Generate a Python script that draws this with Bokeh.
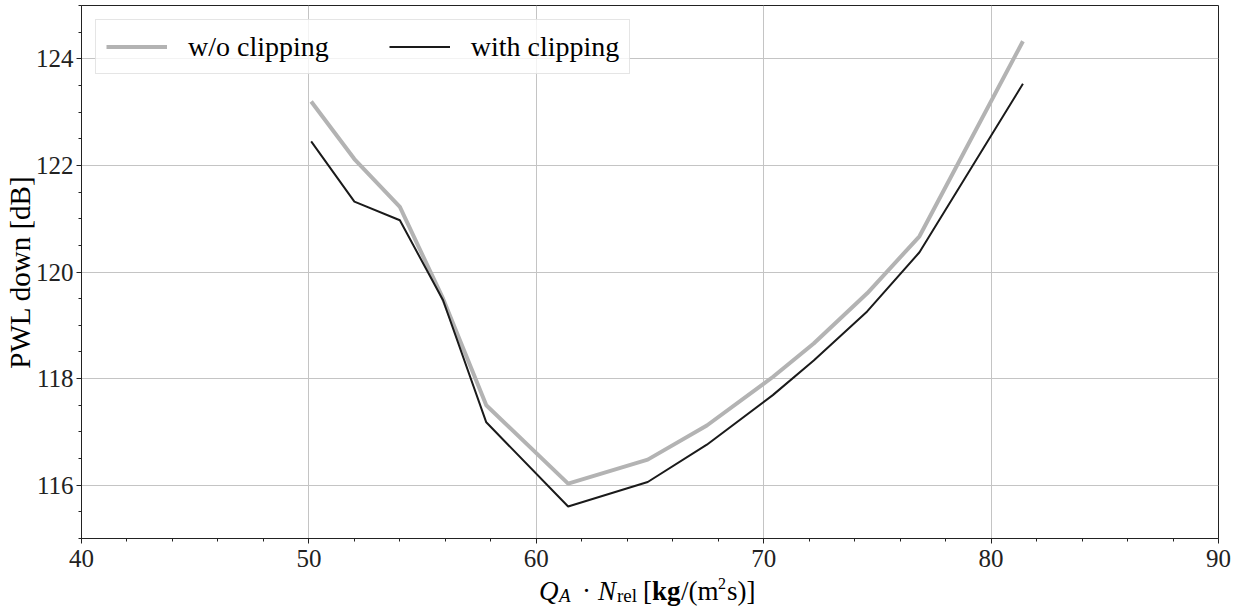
import numpy as np
from bokeh.plotting import figure
from bokeh.layouts import column
from bokeh.models import Range1d, Legend, LegendItem, Label, FixedTicker
from bokeh.embed import file_html
from bokeh.resources import INLINE

# ---- data ----
x_vals = [50.1, 52.0, 54.0, 55.9, 57.8, 61.4, 64.9, 67.5, 70.4, 72.2, 74.55, 76.85, 81.4]
pwl_without = [123.2, 122.12, 121.22, 119.5, 117.5, 116.03, 116.48, 117.12, 118.03, 118.66, 119.6, 120.67, 124.33]
pwl_with = [122.45, 121.32, 120.97, 119.47, 117.18, 115.6, 116.06, 116.76, 117.69, 118.34, 119.26, 120.37, 123.53]
series_names = ["w/o clipping", "with clipping"]
x_ticks = [40, 50, 60, 70, 80, 90]
y_ticks = [116, 118, 120, 122, 124]
y_label = "PWL down [dB]"

FONT = "Liberation Serif"
W = 1234
BL, BR = 81, 16

p = figure(width=W, height=576, output_backend="svg", toolbar_location=None,
           x_range=Range1d(40, 90), y_range=Range1d(115, 125),
           min_border_left=BL, min_border_right=BR, min_border_top=5, min_border_bottom=38)
p.background_fill_color = "white"
p.border_fill_color = "white"
p.outline_line_color = "#222222"
p.outline_line_width = 1

x_minor = [float(v) for v in np.arange(40, 90.01, 2) if v not in x_ticks]
y_minor = [float(v) for v in np.arange(115, 125.01, 0.5) if v not in y_ticks]
p.xaxis.ticker = FixedTicker(ticks=x_ticks, minor_ticks=x_minor)
p.yaxis.ticker = FixedTicker(ticks=y_ticks, minor_ticks=y_minor)

for ax in (p.xaxis[0], p.yaxis[0]):
    ax.axis_line_color = "#222222"
    ax.major_tick_line_color = "#222222"
    ax.minor_tick_line_color = "#222222"
    ax.major_tick_in = 0
    ax.major_tick_out = 5
    ax.minor_tick_in = 0
    ax.minor_tick_out = 3
    ax.major_label_text_font = FONT
    ax.major_label_text_font_size = "25px"
    ax.major_label_text_color = "#222222"

p.xaxis.major_label_standoff = 6
p.yaxis.major_label_standoff = 3
p.yaxis.axis_label = y_label
p.yaxis.axis_label_text_font = FONT
p.yaxis.axis_label_text_font_size = "29px"
p.yaxis.axis_label_text_font_style = "normal"
p.yaxis.axis_label_text_color = "black"
p.yaxis.axis_label_standoff = -3

p.grid.grid_line_color = "#c4c4c4"
p.grid.grid_line_width = 1

r1 = p.line(x_vals, pwl_without, line_color="#b3b3b3", line_width=4)
r2 = p.line(x_vals, pwl_with, line_color="#1a1a1a", line_width=2)

legend = Legend(items=[LegendItem(label=series_names[0], renderers=[r1]),
                       LegendItem(label=series_names[1], renderers=[r2])],
                location="top_left", orientation="horizontal")
legend.margin = 14
legend.padding = 10
legend.spacing = 60
legend.glyph_width = 61
legend.glyph_height = 33
legend.label_standoff = 21
legend.label_text_font = FONT
legend.label_text_font_size = "28px"
legend.label_text_color = "black"
legend.border_line_color = "#cccccc"
legend.border_line_width = 1
legend.background_fill_color = "white"
legend.background_fill_alpha = 0.8
p.add_layout(legend)

# ---- x axis label strip: Q_A · N_rel [kg/(m^2 s)] ----
STRIP_H = 31
p2 = figure(width=W, height=STRIP_H, output_backend="svg", toolbar_location=None,
            x_range=p.x_range, y_range=Range1d(0, STRIP_H),
            x_axis_type=None, y_axis_type=None,
            min_border_left=BL, min_border_right=BR, min_border_top=0, min_border_bottom=0)
p2.grid.visible = False
p2.outline_line_color = None
p2.background_fill_color = "white"
p2.border_fill_color = "white"

# (text, style, size px, left offset from centre px, vertical shift px)
pieces = [("Q", "italic", 27, -111, 0), ("A", "italic", 19, -91, -5), ("·", "normal", 27, -68, 0),
          ("N", "italic", 27, -52, 0), ("rel", "normal", 19, -33, -5), ("[", "normal", 27, -7, 0),
          ("kg", "bold", 27, 2, 0), ("/(m", "normal", 27, 31, 0), ("2", "normal", 16, 68, 7),
          ("s)]", "normal", 27, 77, 0)]
for t, st, s, xo, dy in pieces:
    p2.add_layout(Label(x=65, y=17 + dy, x_units="data", y_units="data",
                        x_offset=xo, text=t, text_font=FONT,
                        text_font_style=st, text_font_size=f"{s}px", text_color="black",
                        text_align="left", text_baseline="alphabetic"))

layout = column(p, p2, spacing=0)
open("out.html", "w").write(file_html(layout, INLINE))
